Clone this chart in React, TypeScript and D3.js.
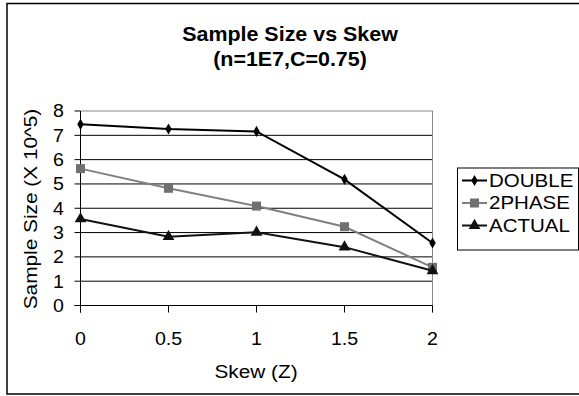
import * as d3 from 'd3';

const skew = [0, 0.5, 1, 1.5, 2];
const doubleVals = [7.45, 7.26, 7.16, 5.19, 2.57];
const twoPhaseVals = [5.63, 4.82, 4.09, 3.24, 1.57];
const actualVals = [3.56, 2.83, 3.01, 2.4, 1.43];
const yTicks = [0, 1, 2, 3, 4, 5, 6, 7, 8];
const xTicks = [0, 0.5, 1, 1.5, 2];

const W = 579;
const H = 396;
const FONT = 'Liberation Sans, Arial, sans-serif';

const series = [
  { name: 'DOUBLE', values: doubleVals, color: '#000', fill: '#000', marker: 'diamond' },
  { name: '2PHASE', values: twoPhaseVals, color: '#808080', fill: '#707070', marker: 'square' },
  { name: 'ACTUAL', values: actualVals, color: '#111', fill: '#111', marker: 'triangle' },
];

// original text is a bit wider than Arial, so stretch it horizontally
function SText({
  x, y, size, sx = 1.2, anchor = 'start', bold = false, rotate = 0, dy, children,
}: {
  x: number; y: number; size: number; sx?: number; anchor?: string; bold?: boolean;
  rotate?: number; dy?: string; children: React.ReactNode;
}) {
  return (
    <text
      transform={`translate(${x},${y}) rotate(${rotate}) scale(${sx},1)`}
      textAnchor={anchor}
      fontSize={size}
      fontWeight={bold ? 'bold' : 'normal'}
      dy={dy}
    >
      {children}
    </text>
  );
}

function Marker({ kind, x, y, color }: { kind: string; x: number; y: number; color: string }) {
  if (kind === 'square') {
    return <rect x={x - 4.5} y={y - 4.5} width={9} height={9} fill={color} />;
  }
  const sym = kind === 'diamond' ? d3.symbolDiamond : d3.symbolTriangle;
  const size = kind === 'diamond' ? 36 : 60;
  const d = d3.symbol().type(sym).size(size)() ?? '';
  return <path d={d} transform={`translate(${x},${y})`} fill={color} />;
}

export default function App() {
  const x = d3.scaleLinear().domain([0, 2]).range([80.5, 432.5]);
  const y = d3.scaleLinear().domain([0, 8]).range([305.5, 111]);
  const line = d3
    .line<number>()
    .x((_, i) => x(skew[i]))
    .y((v) => y(v));

  return (
    <svg
      width={W}
      height={H}
      viewBox={`0 0 ${W} ${H}`}
      style={{ position: 'absolute', left: 0, top: 0, background: '#fff' }}
      fontFamily={FONT}
    >
      <rect x={7} y={3.5} width={W} height={390.5} fill="#fff" stroke="#000" strokeWidth={1.5} />

      <SText x={290} y={40.5} size={19.5} sx={1.1} anchor="middle" bold>
        Sample Size vs Skew
      </SText>
      <SText x={290} y={66} size={19.5} sx={1.1} anchor="middle" bold>
        (n=1E7,C=0.75)
      </SText>

      {/* grid */}
      {yTicks.slice(1).map((t) => (
        <line
          key={t}
          x1={x(0)}
          x2={x(2)}
          y1={y(t)}
          y2={y(t)}
          stroke={t === 8 ? '#888' : '#000'}
          strokeWidth={1}
        />
      ))}
      <line x1={x(2)} x2={x(2)} y1={y(8)} y2={y(0) + 7} stroke="#888" strokeWidth={1} />

      {/* axes */}
      <line x1={x(0)} x2={x(0)} y1={y(8)} y2={y(0) + 7} stroke="#000" strokeWidth={1} />
      <line x1={x(0) - 6} x2={x(2)} y1={y(0)} y2={y(0)} stroke="#000" strokeWidth={1} />
      {yTicks.map((t) => (
        <g key={t}>
          <line x1={x(0) - 6} x2={x(0)} y1={y(t)} y2={y(t)} stroke="#000" />
          <SText x={64} y={y(t)} dy="0.36em" anchor="end" size={17.5} sx={1.12}>
            {t}
          </SText>
        </g>
      ))}
      {xTicks.map((t) => (
        <g key={t}>
          <line x1={x(t)} x2={x(t)} y1={y(0)} y2={y(0) + 7} stroke="#000" />
          <SText x={x(t)} y={345} anchor="middle" size={17.5} sx={1.12}>
            {t}
          </SText>
        </g>
      ))}

      <SText x={256} y={378} anchor="middle" size={17.5} sx={1.19}>
        Skew (Z)
      </SText>
      <SText x={37} y={209} anchor="middle" size={17.5} sx={1.19} rotate={-90}>
        Sample Size (X 10^5)
      </SText>

      {/* series */}
      {series.map((s) => (
        <g key={s.name}>
          <path d={line(s.values) ?? ''} fill="none" stroke={s.color} strokeWidth={2} />
          {s.values.map((v, i) => (
            <Marker key={i} kind={s.marker} x={x(skew[i])} y={y(v)} color={s.fill} />
          ))}
        </g>
      ))}

      {/* legend */}
      <rect x={457.5} y={168} width={121} height={82} fill="#fff" stroke="#000" strokeWidth={1} />
      {series.map((s, i) => {
        const cy = 180.5 + i * 22.5;
        return (
          <g key={s.name}>
            <line x1={462} x2={487} y1={cy} y2={cy} stroke={s.color} strokeWidth={2} />
            <Marker kind={s.marker} x={474.5} y={cy} color={s.fill} />
            <SText x={489} y={cy} dy="0.36em" size={18} sx={1.14}>
              {s.name}
            </SText>
          </g>
        );
      })}
    </svg>
  );
}
